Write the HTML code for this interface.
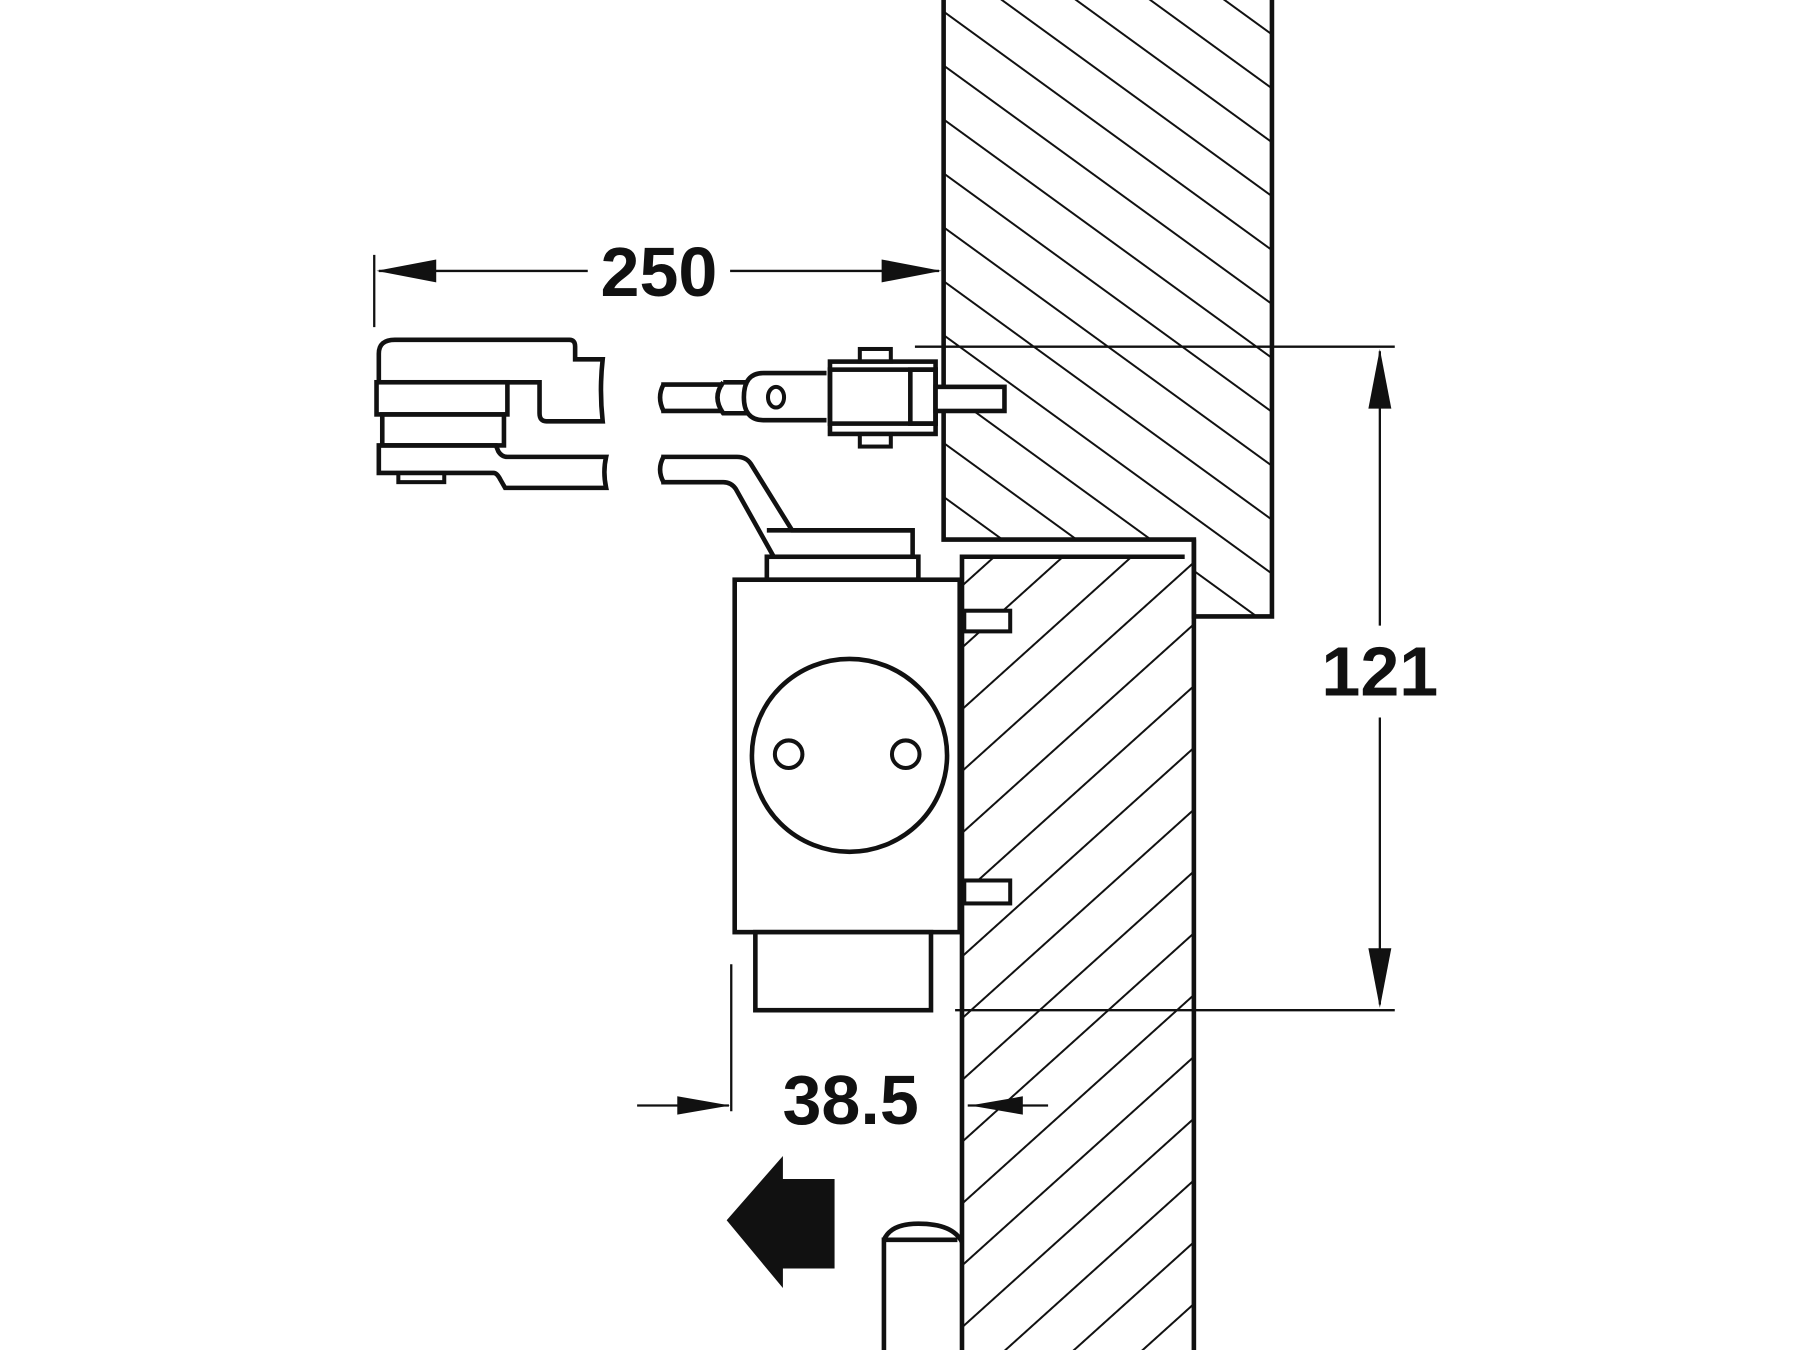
<!DOCTYPE html>
<html><head><style>html,body{margin:0;padding:0;background:#fff}svg{display:block}</style></head>
<body>
<svg width="1800" height="1350" viewBox="0 0 1568 1176" xmlns="http://www.w3.org/2000/svg">
<defs>
<pattern id="hf" patternUnits="userSpaceOnUse" width="38" height="38" patternTransform="rotate(36)">
<line x1="0" y1="19" x2="38" y2="19" stroke="#111" stroke-width="1.8"/></pattern>
<pattern id="hd" patternUnits="userSpaceOnUse" width="40" height="40" patternTransform="rotate(-42)">
<line x1="0" y1="20" x2="40" y2="20" stroke="#111" stroke-width="1.8"/></pattern>
</defs>
<g fill="none" stroke="#111" stroke-width="4" stroke-linejoin="miter">
<!-- door leaf -->
<rect x="838" y="485" width="202" height="700" fill="url(#hd)" stroke="none"/>
<path d="M838 1176 V485 H1032 M1040 470 V1176"/>
<!-- frame -->
<path d="M822 -5 V470 H1040 V537 H1108 V-5" fill="url(#hf)"/>
<!-- door brackets -->
<rect x="840" y="532" width="40" height="18" fill="#fff" stroke-width="3.5"/>
<rect x="840" y="767" width="40" height="20" fill="#fff" stroke-width="3.5"/>
<!-- closer body -->
<rect x="668" y="485" width="132" height="20" fill="#fff"/>
<path d="M668 462 H795 V485" fill="none"/>
<rect x="640" y="505" width="196" height="307" fill="#fff"/>
<ellipse cx="740" cy="658" rx="85" ry="84"/>
<circle cx="687" cy="657" r="12" stroke-width="3.5"/>
<circle cx="789" cy="657" r="12" stroke-width="3.5"/>
<rect x="658" y="812" width="153" height="68" fill="#fff"/>
<!-- lower arm right -->
<path d="M576 398 H642 Q650 398 654 404 L690 462 H795 M576 420 H630 Q637 420 641 426 L674 485" fill="#fff"/>
<path d="M578 398 Q572 409 578 420"/>
<!-- upper arm right -->
<path d="M576 335 H630 M576 358 H630"/>
<path d="M578 335 Q572 346 578 358"/>
<path d="M630 333 Q620 346 630 360 H652 M630 333 H652"/>
<path d="M720 325 H665 Q648 325 648 346 Q648 366 665 366 H720"/>
<ellipse cx="676" cy="346" rx="7" ry="9" stroke-width="3.5"/>
<rect x="723" y="315" width="92" height="63" fill="#fff"/>
<rect x="723" y="322" width="92" height="47"/>
<rect x="793" y="322" width="22" height="47"/>
<rect x="749" y="304" width="27" height="11" stroke-width="3.5"/>
<rect x="749" y="378" width="27" height="11" stroke-width="3.5"/>
<rect x="815" y="337" width="60" height="21" fill="#fff"/>
<!-- left part -->
<path d="M338 351 Q330 351 330 338 V308 Q330 296 344 296 H496 Q501 296 501 302 V313 H525 Q522 340 525 367 H476 Q470 367 470 360 V333 H336"/>
<rect x="328" y="333" width="114" height="28" fill="#fff"/>
<rect x="333" y="361" width="106" height="27"/>
<path d="M330 388 V412 H430 Q433 412 436 418 L440 425 H528 Q525 411 528 398 H442 Q437 398 434 393 L432 388 Z"/>
<rect x="347" y="412" width="40" height="8" stroke-width="3.5"/>
<!-- hinge pin -->
<path d="M770 1176 V1080 H834 M770 1080 Q776 1066 800 1066 Q830 1066 838 1082" />
</g>
<!-- arrow -->
<polygon points="633,1063 682,1007 682,1027 727,1027 727,1105 682,1105 682,1122" fill="#111"/>
<!-- dimensions -->
<g stroke="#111" stroke-width="2" fill="none">
<line x1="326" y1="222" x2="326" y2="285"/>
<line x1="330" y1="236" x2="512" y2="236"/>
<line x1="636" y1="236" x2="818" y2="236"/>
<line x1="797" y1="302" x2="1215" y2="302"/>
<line x1="832" y1="880" x2="1215" y2="880"/>
<line x1="1202" y1="306" x2="1202" y2="545"/>
<line x1="1202" y1="625" x2="1202" y2="875"/>
<line x1="637" y1="840" x2="637" y2="968"/>
<line x1="555" y1="963" x2="635" y2="963"/>
<line x1="843" y1="963" x2="913" y2="963"/>
</g>
<g fill="#111">
<polygon points="328,236 380,226 380,246"/>
<polygon points="820,236 768,226 768,246"/>
<polygon points="1202,304 1192,356 1212,356"/>
<polygon points="1202,878 1192,826 1212,826"/>
<polygon points="636,963 590,955 590,971"/>
<polygon points="845,963 891,955 891,971"/>
</g>
<g font-family="Liberation Sans, sans-serif" font-weight="bold" font-size="61" fill="#111" text-anchor="middle">
<text x="574" y="258">250</text>
<text x="1202" y="606">121</text>
<text x="741" y="979">38.5</text>
</g>
</svg>
</body></html>
